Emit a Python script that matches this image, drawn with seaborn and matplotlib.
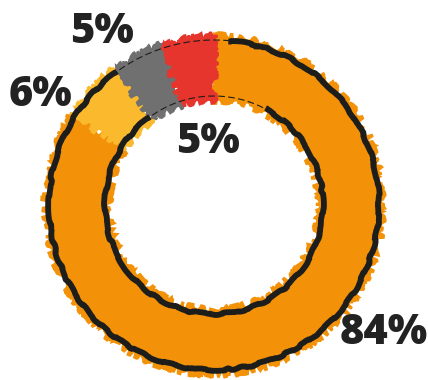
import numpy as np
import matplotlib
matplotlib.use("Agg")
import matplotlib.pyplot as plt
from matplotlib.patches import Arc
import seaborn as sns

# ---- data ----
categories = ["A", "B", "C", "D"]
values = [84, 6, 5, 5]
labels = ["84%", "6%", "5%", "5%"]
colors = ["#F39208", "#FBBA2E", "#707070", "#E5352D"]

sns.set_theme(style="white")
plt.rcParams['font.family'] = ['Open Sans', 'DejaVu Sans']

W, H = 428, 380
fig = plt.figure(figsize=(W / 100, H / 100), dpi=100)
ax = fig.add_axes([0, 0, 1, 1])

cx, cy = 214, 175
R = 169
ring = 64

wedges, _ = ax.pie(values, colors=colors, startangle=90, counterclock=False,
                   radius=R, center=(cx, cy), frame=True,
                   wedgeprops=dict(width=ring, linewidth=0))
ax.set_xlim(0, W)
ax.set_ylim(0, H)
ax.set_aspect("equal")
ax.axis("off")

# rough, hand-drawn edges in the same colour as the fill
for w, c in zip(wedges, colors):
    w.set_edgecolor(c)
    w.set_linewidth(2.0)
    w.set_sketch_params(scale=3.5, length=25, randomness=25)

ink = "#1d1d1b"
# black sketchy outlines: thick on orange/yellow, thin dashed on grey/red
for r, end in ((R - 4, 85), (R - ring + 4, 62)):
    thick = Arc((cx, cy), 2 * r, 2 * r, theta1=90 - 324, theta2=end,
                color=ink, lw=4.2)
    thick.set_sketch_params(scale=1.0, length=60, randomness=10)
    ax.add_patch(thick)
    thin = Arc((cx, cy), 2 * r, 2 * r, theta1=end - 4, theta2=90 - 318 + 360,
               color=ink, lw=0.8, ls=(0, (6, 3)))
    ax.add_patch(thin)

# labels
txt = dict(ha="center", va="center", fontsize=30, fontweight=800, color="#222222")
ax.text(384, H - 333, labels[0], **txt)
ax.text(40, H - 95, labels[1], **txt)
ax.text(102, H - 32, labels[2], **txt)
ax.text(208, H - 142, labels[3], **txt)

fig.savefig("out.png", dpi=100)
